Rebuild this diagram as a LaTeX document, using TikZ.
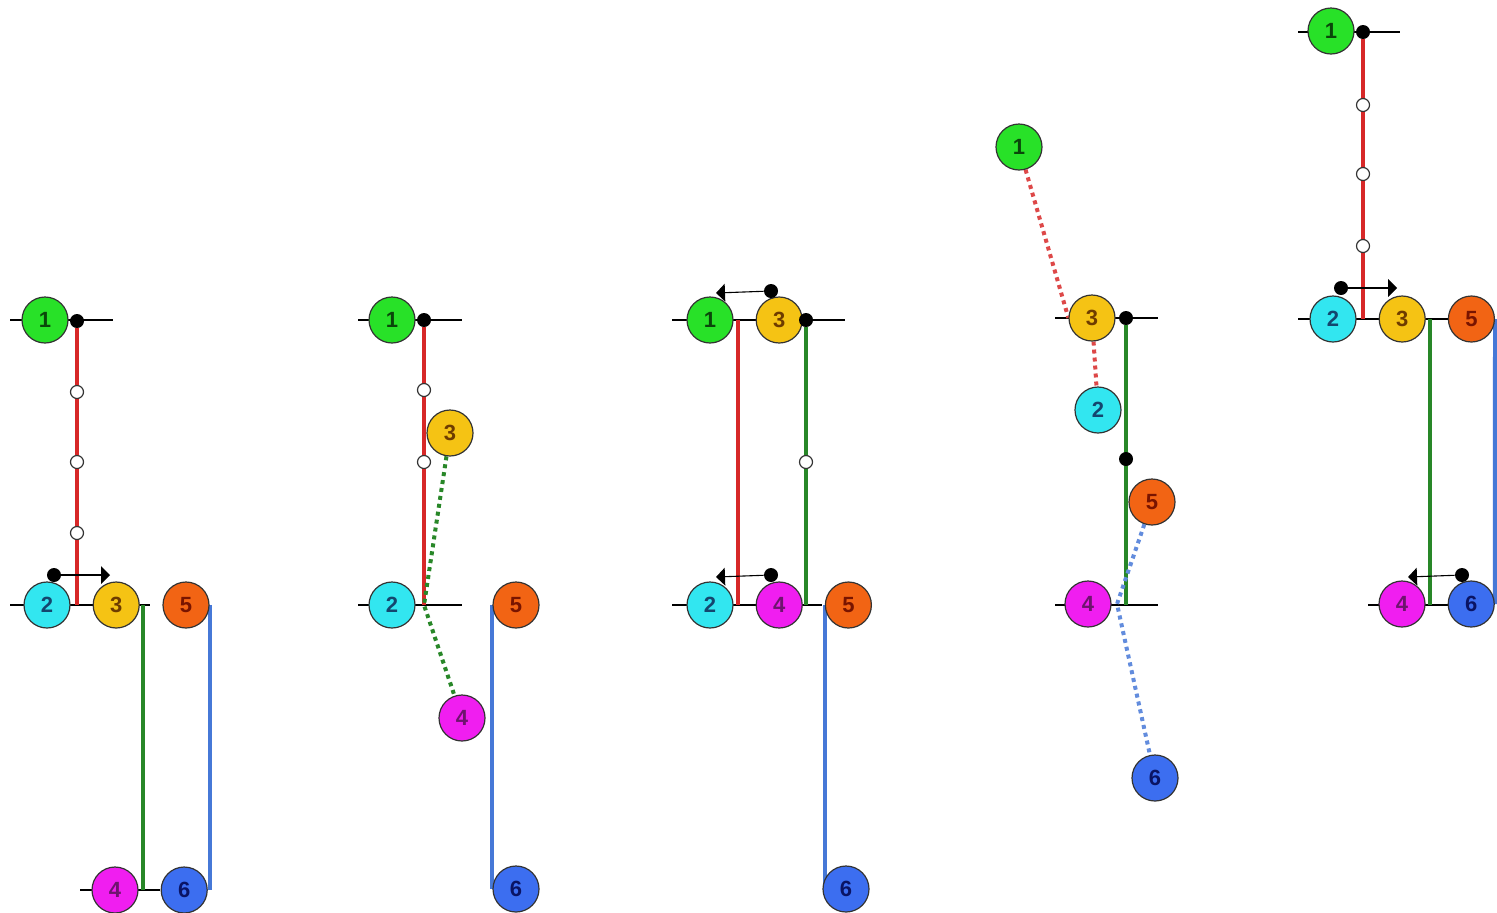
\documentclass[tikz,border=0pt]{standalone}
\usepackage{fontspec}
\setmainfont{Liberation Sans}
\usetikzlibrary{shapes,arrows,positioning,backgrounds}

\definecolor{ballgreen}{RGB}{40,225,40}
\definecolor{ballcyan}{RGB}{50,230,240}
\definecolor{ballyellow}{RGB}{245,195,20}
\definecolor{ballmagenta}{RGB}{240,30,240}
\definecolor{ballorange}{RGB}{242,100,20}
\definecolor{ballblue}{RGB}{60,110,240}
\definecolor{txtgreen}{RGB}{10,70,10}
\definecolor{txtcyan}{RGB}{20,70,110}
\definecolor{txtyellow}{RGB}{110,60,0}
\definecolor{txtmagenta}{RGB}{110,20,110}
\definecolor{txtorange}{RGB}{120,20,0}
\definecolor{txtblue}{RGB}{10,20,100}
\definecolor{linered}{RGB}{215,40,40}
\definecolor{linegreen}{RGB}{40,135,40}
\definecolor{lineblue}{RGB}{70,120,215}

\begin{document}
\begin{tikzpicture}[x=0.5pt,y=-0.5pt,node distance=11pt]

  \tikzset{ball/.style={circle, draw=black!80, line width=0.6pt,
  		minimum size=23pt, inner sep=0pt, font=\fontsize{11}{13}\selectfont\bfseries}, }
  \tikzset{green ball/.style={ball, fill=ballgreen, text=txtgreen}, }
  \tikzset{cyan ball/.style={ball, fill=ballcyan, text=txtcyan}, }
  \tikzset{yellow ball/.style={ball, fill=ballyellow, text=txtyellow}, }
  \tikzset{magenta ball/.style={ball, fill=ballmagenta, text=txtmagenta}, }
  \tikzset{orange ball/.style={ball, fill=ballorange, text=txtorange}, }
  \tikzset{blue ball/.style={ball, fill=ballblue, text=txtblue}, }
  \tikzset{knot/.style={circle, fill=black, minimum size=7pt, inner sep=0pt}, }
  \tikzset{hole/.style={circle, draw=black!80, fill=white, line width=0.6pt,
  		minimum size=6.5pt, inner sep=0pt}, }
  \tikzset{rail/.style={line width=0.8pt}, }
  \tikzset{red rope/.style={line width=2pt, draw=linered}, }
  \tikzset{green rope/.style={line width=2pt, draw=linegreen}, }
  \tikzset{blue rope/.style={line width=2pt, draw=lineblue}, }
  \tikzset{loose/.style={line width=2pt, dotted}, }
  \tikzset{linea/.style={-triangle 90, line width=0.55pt}, }

\useasboundingbox (0,0) rectangle (1497,912);

%% first
\node[green ball] (a1) at (45,320) {1};
\node[cyan ball] (a2) at (47,605) {2};
\node[yellow ball, right=of a2] (a3) {3};
\node[orange ball] (a5) at (186,605) {5};
\node[magenta ball] (a4) at (115,890) {4};
\node[blue ball, right=of a4] (a6) {6};
\node[knot] (a1k) at (77,321) {};
\node[knot] (a2m) at (54,575) {};
\coordinate (a2t) at (110,575);
\coordinate (a2j) at (77,605);
\coordinate (a3j) at (143,605);
\coordinate (a4j) at (143,890);
\foreach \y in {392,462,533}
  \node[hole] at (77,\y) {};
\draw[linea] (a2m) -- (a2t);

%% second
\node[green ball] (b1) at (392,320) {1};
\node[cyan ball] (b2) at (392,605) {2};
\node[yellow ball] (b3) at (450,433) {3};
\node[magenta ball] (b4) at (462,718) {4};
\node[orange ball] (b5) at (516,605) {5};
\node[blue ball] (b6) at (516,889) {6};
\node[knot] (b1k) at (424,320) {};
\coordinate (b2j) at (424,605);
\foreach \y in {390,462}
  \node[hole] at (424,\y) {};

%% third
\node[green ball] (c1) at (710,320) {1};
\node[yellow ball, right=of c1] (c3) {3};
\node[cyan ball] (c2) at (710,605) {2};
\node[magenta ball, right=of c2] (c4) {4};
\node[orange ball, right=of c4] (c5) {5};
\node[blue ball] (c6) at (846,889) {6};
\node[knot] (c3k) at (806,320) {};
\node[knot] (c1m) at (771,291) {};
\node[knot] (c2m) at (771,575) {};
\coordinate (c1t) at (716,293);
\coordinate (c2t) at (716,577);
\coordinate (c1j) at (738,320);
\coordinate (c2j) at (738,605);
\coordinate (c4j) at (806,605);
\node[hole] at (806,462) {};
\draw[linea] (c1m) -- (c1t);
\draw[linea] (c2m) -- (c2t);

%% fourth
\node[green ball] (d1) at (1019,147) {1};
\node[yellow ball] (d3) at (1092,318) {3};
\node[cyan ball] (d2) at (1098,410) {2};
\node[orange ball] (d5) at (1152,502) {5};
\node[magenta ball] (d4) at (1088,604) {4};
\node[blue ball] (d6) at (1155,778) {6};
\node[knot] (d3k) at (1126,318) {};
\node[knot] (d5k) at (1126,459) {};
\coordinate (d4j) at (1126,605);
\coordinate (d4e) at (1117,604);

%% fifth
\node[green ball] (e1) at (1331,31) {1};
\node[cyan ball] (e2) at (1333,319) {2};
\node[yellow ball, right=of e2] (e3) {3};
\node[orange ball, right=of e3] (e5) {5};
\node[magenta ball] (e4) at (1402,604) {4};
\node[blue ball, right=of e4] (e6) {6};
\node[knot] (e1k) at (1363,32) {};
\node[knot] (e2m) at (1341,288) {};
\node[knot] (e6m) at (1462,575) {};
\coordinate (e2t) at (1397,288);
\coordinate (e6t) at (1408,577);
\coordinate (e2j) at (1363,319);
\coordinate (e3j) at (1430,319);
\coordinate (e4j) at (1430,605);
\foreach \y in {105,174,246}
  \node[hole] at (1363,\y) {};
\draw[linea] (e2m) -- (e2t);
\draw[linea] (e6m) -- (e6t);

\begin{pgfonlayer}{background}
  \foreach \xa/\xb/\y in {10/113/320,10/150/605,80/160/890,358/462/320,358/462/605,
      672/845/320,672/822/605,1055/1158/318,1055/1158/605,1298/1400/32,
      1298/1460/319,1368/1450/605}
    \draw[rail] (\xa,\y) -- (\xb,\y);
  \draw[red rope] (a1k) -- (a2j);
  \draw[green rope] (a3j) -- (a4j);
  \draw[blue rope] (a5.east) -- (a5.east |- a6);
  \draw[red rope] (b1k) -- (b2j);
  \draw[loose, linegreen] (b3) -- (b2j) -- (b4);
  \draw[blue rope] (b5.west) -- (b6.west);
  \draw[red rope] (c1j) -- (c2j);
  \draw[green rope] (c3k) -- (c4j);
  \draw[blue rope] (c5.west) -- (c5.west |- c6);
  \draw[green rope] (d3k) -- (d4j);
  \draw[loose, linered!85!white] (d1) -- (d3.west);
  \draw[loose, linered!85!white] (d3) -- (d2);
  \draw[loose, lineblue!85!white] (d5) -- (d4e) -- (d6);
  \draw[red rope] (e1k) -- (e2j);
  \draw[green rope] (e3j) -- (e4j);
  \draw[blue rope] (e5.east) -- (e6.east);
\end{pgfonlayer}
%%
\end{tikzpicture}
\end{document}
